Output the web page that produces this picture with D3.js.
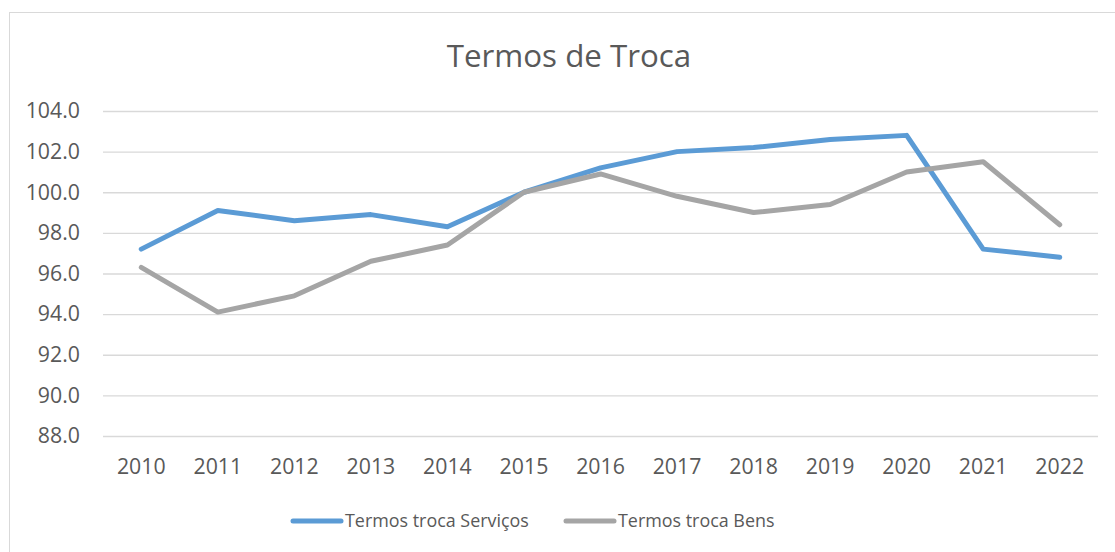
<!DOCTYPE html>
<html>
<head>
<meta charset="utf-8">
<script src="https://cdn.jsdelivr.net/npm/d3@7"></script>
<style>
  html, body { margin: 0; padding: 0; background: #fff; }
  svg { display: block; font-family: "Open Sans", "Noto Sans", sans-serif; }
</style>
</head>
<body>
<svg id="chart" width="1115" height="552"></svg>
<script>
// values
const years = ['2010','2011','2012','2013','2014','2015','2016','2017','2018','2019','2020','2021','2022'];
const servicos = [97.2, 99.1, 98.6, 98.9, 98.3, 100.0, 101.2, 102.0, 102.2, 102.6, 102.8, 97.2, 96.8];
const bens = [96.3, 94.1, 94.9, 96.6, 97.4, 100.0, 100.9, 99.8, 99.0, 99.4, 101.0, 101.5, 98.4];
const yTicks = [88, 90, 92, 94, 96, 98, 100, 102, 104];

const series = [
  { name: 'Termos troca Serviços', values: servicos, color: '#5b9bd5' },
  { name: 'Termos troca Bens', values: bens, color: '#a5a5a5' }
];

const svg = d3.select('#chart');
const plot = { left: 103, right: 1098, top: 111, bottom: 436 };
const textColor = '#595959';

// outer chart border (runs off the right/bottom edge like the source)
svg.append('rect')
  .attr('x', 9.5).attr('y', 12.5)
  .attr('width', 1120).attr('height', 560)
  .attr('fill', 'none')
  .attr('stroke', '#d9d9d9')
  .attr('stroke-width', 1);

svg.append('text')
  .attr('x', 569).attr('y', 67)
  .attr('text-anchor', 'middle')
  .attr('font-size', 31.3)
  .attr('fill', textColor)
  .text('Termos de Troca');

const x = d3.scaleBand().domain(years).range([plot.left, plot.right]);
const y = d3.scaleLinear().domain([88, 104]).range([plot.bottom, plot.top]);

// gridlines + y labels
const yAxis = d3.axisLeft(y)
  .tickValues(yTicks)
  .tickSize(-(plot.right - plot.left))
  .tickPadding(23)
  .tickFormat(d3.format('.1f'));

const gy = svg.append('g')
  .attr('transform', `translate(${plot.left},0)`)
  .call(yAxis);
gy.select('.domain').remove();
gy.selectAll('.tick line').attr('stroke', '#d9d9d9').attr('stroke-width', 1.3);
gy.selectAll('.tick text')
  .attr('fill', textColor)
  .attr('font-size', 21.3)
  .attr('font-family', '"Open Sans", sans-serif');

// x labels
const xAxis = d3.axisBottom(x).tickSize(0).tickPadding(23);
const gx = svg.append('g')
  .attr('transform', `translate(0,${plot.bottom})`)
  .call(xAxis);
gx.select('.domain').remove();
gx.selectAll('.tick text')
  .attr('fill', textColor)
  .attr('font-size', 21.3)
  .attr('font-family', '"Open Sans", sans-serif');

const line = d3.line()
  .x((d, i) => x(years[i]) + x.bandwidth() / 2)
  .y(d => y(d));

svg.append('g').selectAll('path')
  .data(series)
  .join('path')
  .attr('d', d => line(d.values))
  .attr('fill', 'none')
  .attr('stroke', d => d.color)
  .attr('stroke-width', 5)
  .attr('stroke-linejoin', 'round')
  .attr('stroke-linecap', 'round');

// legend
const legendItems = [
  { x: 293, s: series[0] },
  { x: 566, s: series[1] }
];
const lg = svg.append('g').selectAll('g')
  .data(legendItems)
  .join('g')
  .attr('transform', d => `translate(${d.x},521)`);
lg.append('line')
  .attr('x1', 0).attr('x2', 48)
  .attr('stroke', d => d.s.color)
  .attr('stroke-width', 5)
  .attr('stroke-linecap', 'round');
lg.append('text')
  .attr('x', 52).attr('dy', '0.35em')
  .attr('font-size', 17.9)
  .attr('fill', textColor)
  .text(d => d.s.name);
</script>
</body>
</html>
